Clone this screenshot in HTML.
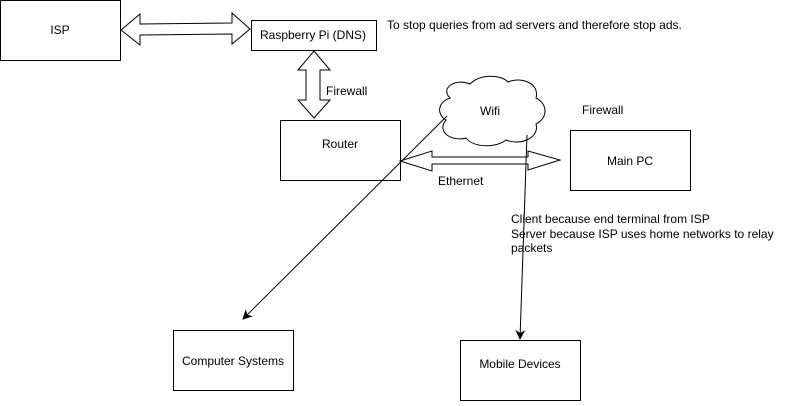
<!DOCTYPE html>
<html><head><style>
html,body{margin:0;padding:0;background:#fff;}
svg text{font-family:"Liberation Sans",sans-serif;font-size:12px;fill:#000;}
</style></head><body>
<svg width="791" height="401" viewBox="0 0 791 401" xmlns="http://www.w3.org/2000/svg">
<defs><marker id="a" markerWidth="10" markerHeight="10" refX="9" refY="5" orient="auto" markerUnits="userSpaceOnUse"><path d="M0,0 L10,5 L0,10 L3,5 Z" fill="#000"/></marker></defs>
<g fill="#fff" stroke="#000" stroke-width="1">
<rect x="0.5" y="0.5" width="120" height="60"/>
<rect x="251.5" y="20.5" width="125" height="30"/>
<rect x="280.5" y="120.5" width="120" height="60"/>
<rect x="570.5" y="130.5" width="120" height="60"/>
<rect x="173.5" y="330.5" width="120" height="60"/>
<rect x="460.5" y="340.5" width="120" height="60"/>
<path d="M121,30 L140,14 L140,24 L232,23 L232,13 L250,29 L232,44 L232,34 L140,35 L140,45 Z"/>
<path d="M314,51 L330,70 L320,70 L320,100 L330,100 L314,118 L298,100 L306,100 L306,70 L298,70 Z"/>
<path d="M400,161 L432,151 L432,157 L528,157 L528,151 L560,160 L528,170 L528,164 L432,164 L432,171 Z"/>
<path d="M450,98 C440,88 455,78 470,84 C480,74 500,74 508,82 C522,76 540,84 536,98 C548,104 548,118 536,124 C540,138 520,146 506,140 C496,148 474,148 466,138 C452,142 436,132 446,120 C436,114 438,102 450,98 Z"/>
</g>
<line x1="447" y1="116" x2="243" y2="319" stroke="#000" marker-end="url(#a)"/>
<line x1="527" y1="135" x2="520" y2="339" stroke="#000" marker-end="url(#a)"/>
<text x="60" y="34" text-anchor="middle">ISP</text>
<text x="313" y="39" text-anchor="middle">Raspberry Pi (DNS)</text>
<text x="387" y="29">To stop queries from ad servers and therefore stop ads.</text>
<text x="326" y="95">Firewall</text>
<text x="340" y="148" text-anchor="middle">Router</text>
<text x="490" y="115" text-anchor="middle">Wifi</text>
<text x="582" y="114">Firewall</text>
<text x="630" y="165" text-anchor="middle">Main PC</text>
<text x="438" y="185">Ethernet</text>
<text x="511" y="223">Client because end terminal from ISP</text>
<text x="511" y="238">Server because ISP uses home networks to relay</text>
<text x="511" y="252">packets</text>
<text x="233" y="365" text-anchor="middle">Computer Systems</text>
<text x="520" y="368" text-anchor="middle">Mobile Devices</text>
</svg>
</body></html>
